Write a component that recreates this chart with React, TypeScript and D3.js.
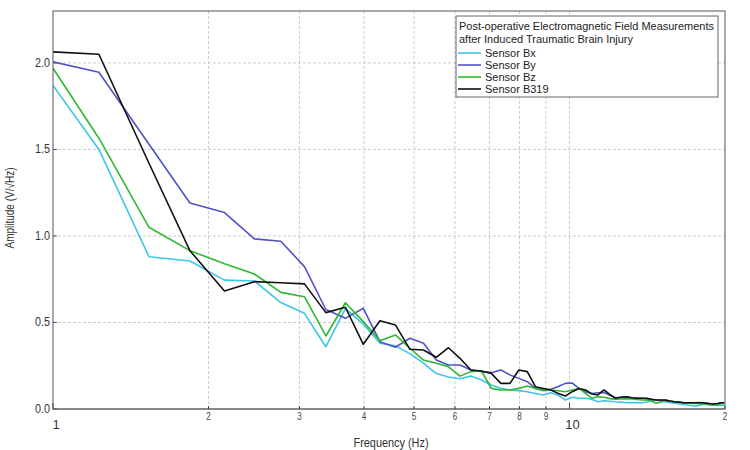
import React, { useRef, useEffect } from "react";
import * as d3 from "d3";

// frequency bins (Hz)
const frequencies = [
  1, 1.227, 1.534, 1.841, 2.148, 2.454, 2.761, 3.068, 3.375, 3.682, 3.988, 4.295,
  4.602, 4.909, 5.216, 5.522, 5.829, 6.136, 6.443, 6.75, 7.057, 7.363, 7.67, 7.977,
  8.284, 8.59, 8.897, 9.204, 9.511, 9.818, 10.125, 10.432, 10.738, 11.045, 11.352,
  11.659, 11.965, 12.272, 12.579, 12.886, 13.193, 13.499, 13.806, 14.113, 14.42,
  14.727, 15.033, 15.34, 15.647, 15.954, 16.261, 16.568, 16.874, 17.181, 17.488,
  17.795, 18.102, 18.408, 18.715, 19.022, 19.329, 19.636, 19.943,
];

const sensorBx = [
  1.87, 1.5, 0.88, 0.855, 0.745, 0.74, 0.615, 0.553, 0.36, 0.58, 0.49, 0.38,
  0.365, 0.32, 0.265, 0.205, 0.185, 0.175, 0.19, 0.168, 0.139, 0.12, 0.11, 0.106,
  0.1, 0.09, 0.081, 0.094, 0.08, 0.052, 0.068, 0.062, 0.062, 0.056, 0.042,
  0.048, 0.045, 0.042, 0.04, 0.036, 0.036, 0.036, 0.036, 0.04, 0.048,
  0.052, 0.045, 0.042, 0.036, 0.033, 0.03, 0.026, 0.023, 0.02, 0.017,
  0.02, 0.026, 0.026, 0.023, 0.023, 0.02, 0.022, 0.022,
];

const sensorBy = [
  2.006, 1.946, 1.53, 1.19, 1.135, 0.983, 0.969, 0.823, 0.575, 0.524, 0.582, 0.389,
  0.357, 0.409, 0.38, 0.283, 0.254, 0.254, 0.225, 0.216, 0.21, 0.225, 0.197, 0.177,
  0.158, 0.119, 0.11, 0.114, 0.13, 0.148, 0.15, 0.119, 0.1, 0.09, 0.094,
  0.095, 0.08, 0.065, 0.068, 0.07, 0.065, 0.062, 0.062, 0.058, 0.055,
  0.052, 0.05, 0.048, 0.045, 0.042, 0.04, 0.038, 0.036, 0.036, 0.036,
  0.038, 0.036, 0.034, 0.03, 0.029, 0.03, 0.034, 0.036,
];

const sensorBz = [
  1.969, 1.565, 1.05, 0.915, 0.84, 0.78, 0.674, 0.649, 0.422, 0.614, 0.505, 0.395,
  0.428, 0.351, 0.283, 0.264, 0.245, 0.19, 0.216, 0.221, 0.119, 0.11, 0.11, 0.119,
  0.133, 0.119, 0.106, 0.11, 0.105, 0.1, 0.11, 0.119, 0.09, 0.062, 0.071,
  0.068, 0.06, 0.056, 0.058, 0.06, 0.058, 0.055, 0.052, 0.052, 0.045,
  0.033, 0.04, 0.052, 0.045, 0.042, 0.04, 0.036, 0.034, 0.033, 0.032,
  0.03, 0.03, 0.028, 0.025, 0.023, 0.025, 0.03, 0.032,
];

const sensorB319 = [
  2.064, 2.05, 1.42, 0.915, 0.682, 0.736, 0.73, 0.723, 0.557, 0.588, 0.374, 0.51,
  0.486, 0.345, 0.341, 0.299, 0.354, 0.293, 0.225, 0.22, 0.206, 0.148, 0.148, 0.225,
  0.216, 0.129, 0.119, 0.11, 0.09, 0.075, 0.1, 0.119, 0.11, 0.087, 0.081,
  0.11, 0.085, 0.062, 0.068, 0.071, 0.065, 0.062, 0.062, 0.062, 0.056,
  0.052, 0.052, 0.052, 0.046, 0.042, 0.04, 0.036, 0.036, 0.036, 0.036,
  0.036, 0.036, 0.033, 0.03, 0.029, 0.032, 0.036, 0.036,
];

const seriesNames = ["Sensor Bx", "Sensor By", "Sensor Bz", "Sensor B319"];
const seriesValues = [sensorBx, sensorBy, sensorBz, sensorB319];
const seriesColors = ["#3ec6e6", "#5252c8", "#2fb82f", "#111111"];

const legendTitle = [
  "Post-operative Electromagnetic Field Measurements",
  "after Induced Traumatic Brain Injury",
];

const yTicks = [0, 0.5, 1.0, 1.5, 2.0];
const majorXTicks = [1, 10];
const minorXTicks = [2, 3, 4, 5, 6, 7, 8, 9, 20];
const minorXLabels = ["2", "3", "4", "5", "6", "7", "8", "9", "2"];

const FONT = "'Liberation Sans', Arial, sans-serif";

const App = () => {
  const svgRef = useRef(null);

  useEffect(() => {
    const width = 750;
    const height = 450;
    const margin = { top: 11, right: 25, bottom: 41, left: 53 };

    const svg = d3.select(svgRef.current);
    svg.selectAll("*").remove();

    const x = d3.scaleLog()
      .domain([1, 20])
      .range([margin.left, width - margin.right]);

    const y = d3.scaleLinear()
      .domain([0, 2.3])
      .range([height - margin.bottom, margin.top]);

    const left = margin.left;
    const right = width - margin.right;
    const top = margin.top;
    const bottom = height - margin.bottom;

    svg.append("defs")
      .append("clipPath")
      .attr("id", "plot-clip")
      .append("rect")
      .attr("x", left)
      .attr("y", top)
      .attr("width", right - left)
      .attr("height", bottom - top);

    // grid
    const grid = svg.append("g")
      .attr("stroke", "#bcbccf")
      .attr("stroke-width", 0.8)
      .attr("stroke-dasharray", "3,2");

    grid.selectAll(".vgrid")
      .data(minorXTicks.filter(d => d < 20).concat([10]))
      .enter()
      .append("line")
      .attr("x1", d => x(d))
      .attr("x2", d => x(d))
      .attr("y1", top)
      .attr("y2", bottom);

    grid.selectAll(".hgrid")
      .data(yTicks.filter(d => d > 0))
      .enter()
      .append("line")
      .attr("x1", left)
      .attr("x2", right)
      .attr("y1", d => y(d))
      .attr("y2", d => y(d));

    // lines
    const line = d3.line()
      .x((d, i) => x(frequencies[i]))
      .y(d => y(d));

    svg.append("g")
      .attr("clip-path", "url(#plot-clip)")
      .selectAll("path")
      .data(seriesValues)
      .enter()
      .append("path")
      .attr("fill", "none")
      .attr("stroke", (d, i) => seriesColors[i])
      .attr("stroke-width", 1.6)
      .attr("stroke-linejoin", "round")
      .attr("d", d => line(d));

    // frame
    svg.append("rect")
      .attr("x", left)
      .attr("y", top)
      .attr("width", right - left)
      .attr("height", bottom - top)
      .attr("fill", "none")
      .attr("stroke", "#555")
      .attr("stroke-width", 1);

    svg.append("line")
      .attr("x1", left)
      .attr("x2", right)
      .attr("y1", bottom)
      .attr("y2", bottom)
      .attr("stroke", "#888")
      .attr("stroke-width", 2);

    // x ticks
    svg.selectAll(".xtick")
      .data(majorXTicks.concat(minorXTicks))
      .enter()
      .append("line")
      .attr("x1", d => x(d))
      .attr("x2", d => x(d))
      .attr("y1", bottom)
      .attr("y2", d => (d === 1 || d === 10 ? bottom - 6 : bottom - 3))
      .attr("stroke", "#444");

    svg.selectAll(".xminor")
      .data(minorXTicks)
      .enter()
      .append("text")
      .attr("x", d => x(d))
      .attr("y", bottom + 11)
      .attr("text-anchor", "middle")
      .attr("font-family", FONT)
      .attr("font-size", "10px")
      .attr("fill", "#444")
      .attr("textLength", 4.5)
      .attr("lengthAdjust", "spacingAndGlyphs")
      .text((d, i) => minorXLabels[i]);

    svg.selectAll(".xmajor")
      .data(majorXTicks)
      .enter()
      .append("text")
      .attr("x", d => x(d) + 3)
      .attr("y", bottom + 20)
      .attr("text-anchor", "middle")
      .attr("font-family", FONT)
      .attr("font-size", "13px")
      .attr("fill", "#333")
      .text(d => String(d));

    // y ticks
    svg.selectAll(".ytick")
      .data(yTicks)
      .enter()
      .append("line")
      .attr("x1", left)
      .attr("x2", left + 4)
      .attr("y1", d => y(d))
      .attr("y2", d => y(d))
      .attr("stroke", "#555");

    svg.selectAll(".ylabel")
      .data(yTicks)
      .enter()
      .append("text")
      .attr("x", left - 3)
      .attr("y", d => y(d) + 4)
      .attr("text-anchor", "end")
      .attr("font-family", FONT)
      .attr("font-size", "12px")
      .attr("fill", "#333")
      .attr("textLength", 15)
      .attr("lengthAdjust", "spacingAndGlyphs")
      .text(d => d.toFixed(1));

    // axis titles
    svg.append("text")
      .attr("x", 391)
      .attr("y", height - 3)
      .attr("text-anchor", "middle")
      .attr("font-family", FONT)
      .attr("font-size", "12px")
      .attr("fill", "#333")
      .attr("textLength", 75)
      .attr("lengthAdjust", "spacingAndGlyphs")
      .text("Frequency (Hz)");

    svg.append("text")
      .attr("transform", `translate(14,208) rotate(-90)`)
      .attr("text-anchor", "middle")
      .attr("font-family", FONT)
      .attr("font-size", "12px")
      .attr("fill", "#333")
      .attr("textLength", 81)
      .attr("lengthAdjust", "spacingAndGlyphs")
      .text("Amplitude (V/\u221AHz)");

    // legend
    const legendX = 456;
    const legendY = 16;
    const legend = svg.append("g");

    legend.append("rect")
      .attr("x", legendX)
      .attr("y", legendY)
      .attr("width", 262)
      .attr("height", 81)
      .attr("fill", "white")
      .attr("stroke", "#666")
      .attr("stroke-width", 1);

    const titleLengths = [255, 174];
    legend.selectAll(".ltitle")
      .data(legendTitle)
      .enter()
      .append("text")
      .attr("x", legendX + 3)
      .attr("y", (d, i) => legendY + 14 + i * 12.5)
      .attr("font-family", FONT)
      .attr("font-size", "11.5px")
      .attr("fill", "#222")
      .attr("textLength", (d, i) => titleLengths[i])
      .attr("lengthAdjust", "spacingAndGlyphs")
      .text(d => d);

    const items = legend.selectAll(".litem")
      .data(seriesNames)
      .enter()
      .append("g")
      .attr("transform", (d, i) => `translate(${legendX}, ${legendY + 37 + i * 12})`);

    items.append("line")
      .attr("x1", 2)
      .attr("x2", 25)
      .attr("y1", 0)
      .attr("y2", 0)
      .attr("stroke", (d, i) => seriesColors[i])
      .attr("stroke-width", 1.6);

    items.append("text")
      .attr("x", 29)
      .attr("y", 4)
      .attr("font-family", FONT)
      .attr("font-size", "11px")
      .attr("fill", "#222")
      .text(d => d);
  }, []);

  return (
    <div style={{ position: "absolute", left: 0, top: 0, width: 750, height: 450, background: "white" }}>
      <svg ref={svgRef} width={750} height={450}></svg>
    </div>
  );
};

export default App;
